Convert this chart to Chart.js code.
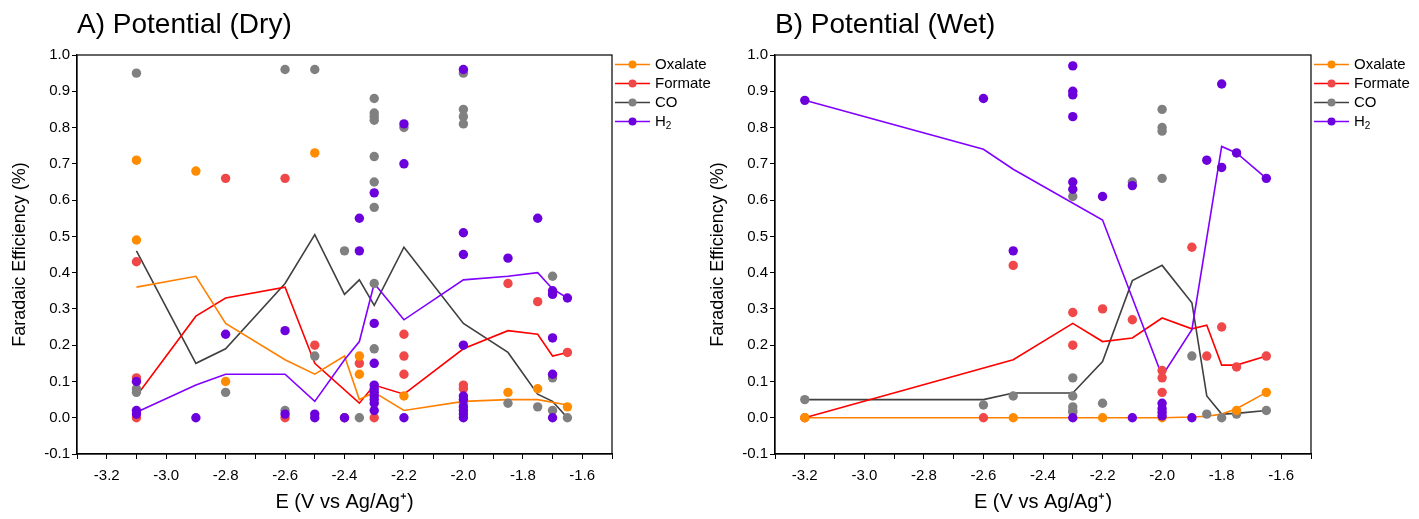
<!DOCTYPE html>
<html><head><meta charset="utf-8">
<script src="https://cdn.jsdelivr.net/npm/chart.js@4.4.1/dist/chart.umd.min.js"></script>
<style>
html,body{margin:0;padding:0;background:#fff;}
#wrap{position:relative;width:1419px;height:519px;overflow:hidden;}
canvas{position:absolute;top:0;}
</style></head><body>
<div id="wrap">
<canvas id="cA" width="725" height="519" style="left:0px"></canvas>
<canvas id="cB" width="721" height="519" style="left:698px"></canvas>
</div>
<script>
// ---------- tick labels ----------
const xTickLabels = ['-3.2','-3.0','-2.8','-2.6','-2.4','-2.2','-2.0','-1.8','-1.6'];
const yTickLabels = ['-0.1','0.0','0.1','0.2','0.3','0.4','0.5','0.6','0.7','0.8','0.9','1.0'];
const speciesNames = ['Oxalate','Formate','CO','H2'];

// ---------- Panel A (Dry): scatter points ----------
const A_ox_px = [-3.1,-3.1,-2.9,-2.5,-2.8,-2.35,-2.35,-2.2,-1.85,-1.75,-1.65];
const A_ox_py = [0.71,0.49,0.68,0.73,0.10,0.17,0.12,0.06,0.07,0.08,0.03];
const A_fo_px = [-3.1,-3.1,-3.1,-2.8,-2.6,-2.6,-2.5,-2.4,-2.35,-2.3,-2.2,-2.2,-2.2,-2.0,-2.0,-1.85,-1.75,-1.65];
const A_fo_py = [0.43,0.11,0.00,0.66,0.66,0.00,0.20,0.00,0.15,0.00,0.23,0.17,0.12,0.09,0.08,0.37,0.32,0.18];
const A_co_px = [-3.1,-3.1,-3.1,-2.8,-2.6,-2.6,-2.5,-2.5,-2.4,-2.35,-2.3,-2.3,-2.3,-2.3,-2.3,-2.3,-2.3,-2.3,-2.3,-2.2,-2.0,-2.0,-2.0,-2.0,-2.0,-1.85,-1.75,-1.7,-1.7,-1.7,-1.65];
const A_co_py = [0.95,0.08,0.07,0.07,0.96,0.02,0.96,0.17,0.46,0.00,0.88,0.84,0.83,0.82,0.72,0.65,0.58,0.37,0.19,0.80,0.95,0.85,0.83,0.81,0.04,0.04,0.03,0.39,0.11,0.02,0.00];
const A_h2_px = [-3.1,-3.1,-3.1,-2.9,-2.8,-2.6,-2.6,-2.5,-2.5,-2.4,-2.35,-2.35,-2.3,-2.3,-2.3,-2.3,-2.3,-2.3,-2.3,-2.3,-2.3,-2.3,-2.2,-2.2,-2.2,-2.0,-2.0,-2.0,-2.0,-2.0,-2.0,-2.0,-2.0,-2.0,-2.0,-1.85,-1.75,-1.7,-1.7,-1.7,-1.7,-1.7,-1.65];
const A_h2_py = [0.10,0.02,0.01,0.00,0.23,0.24,0.01,0.01,0.00,0.00,0.55,0.46,0.62,0.26,0.15,0.09,0.08,0.07,0.06,0.05,0.04,0.02,0.81,0.70,0.00,0.96,0.51,0.45,0.20,0.06,0.05,0.03,0.02,0.01,0.00,0.44,0.55,0.35,0.34,0.22,0.12,0.00,0.33];
// ---------- Panel A (Dry): average lines ----------
const A_ox_lx = [-3.1,-2.9,-2.8,-2.6,-2.5,-2.4,-2.35,-2.3,-2.2,-2.0,-1.85,-1.75,-1.65];
const A_ox_ly = [0.36,0.39,0.26,0.16,0.12,0.17,0.05,0.07,0.02,0.045,0.05,0.05,0.035];
const A_fo_lx = [-3.1,-2.9,-2.8,-2.6,-2.5,-2.35,-2.3,-2.2,-2.0,-1.85,-1.75,-1.7,-1.65];
const A_fo_ly = [0.06,0.28,0.33,0.36,0.15,0.04,0.09,0.065,0.19,0.24,0.23,0.17,0.18];
const A_co_lx = [-3.1,-2.9,-2.8,-2.6,-2.5,-2.4,-2.35,-2.3,-2.2,-2.0,-1.85,-1.75,-1.7,-1.65];
const A_co_ly = [0.46,0.15,0.19,0.37,0.505,0.34,0.38,0.31,0.47,0.26,0.18,0.065,0.045,0.0];
const A_h2_lx = [-3.1,-2.9,-2.8,-2.6,-2.5,-2.4,-2.35,-2.3,-2.2,-2.0,-1.85,-1.75,-1.7,-1.65];
const A_h2_ly = [0.015,0.09,0.12,0.12,0.045,0.16,0.21,0.37,0.27,0.38,0.39,0.40,0.355,0.33];

// ---------- Panel B (Wet): scatter points ----------
const B_ox_px = [-3.2,-2.5,-2.2,-2.0,-1.75,-1.65];
const B_ox_py = [0.00,0.00,0.00,0.00,0.02,0.07];
const B_fo_px = [-3.2,-2.6,-2.5,-2.3,-2.3,-2.2,-2.1,-2.0,-2.0,-2.0,-1.9,-1.85,-1.8,-1.75,-1.65];
const B_fo_py = [0.00,0.00,0.42,0.29,0.20,0.30,0.27,0.13,0.11,0.07,0.47,0.17,0.25,0.14,0.17];
const B_co_px = [-3.2,-2.6,-2.5,-2.3,-2.3,-2.3,-2.3,-2.3,-2.3,-2.2,-2.1,-2.0,-2.0,-2.0,-2.0,-1.9,-1.85,-1.8,-1.75,-1.65];
const B_co_py = [0.05,0.035,0.06,0.61,0.11,0.06,0.03,0.02,0.015,0.04,0.65,0.85,0.80,0.79,0.66,0.17,0.01,0.00,0.01,0.02];
const B_h2_px = [-3.2,-2.6,-2.5,-2.3,-2.3,-2.3,-2.3,-2.3,-2.3,-2.3,-2.2,-2.1,-2.1,-2.0,-2.0,-2.0,-2.0,-1.9,-1.85,-1.8,-1.8,-1.75,-1.65];
const B_h2_py = [0.875,0.88,0.46,0.97,0.90,0.89,0.83,0.65,0.63,0.00,0.61,0.64,0.00,0.04,0.025,0.015,0.005,0.00,0.71,0.92,0.69,0.73,0.66];
// ---------- Panel B (Wet): average lines ----------
const B_ox_lx = [-3.2,-2.6,-2.5,-2.3,-2.2,-2.0,-1.9,-1.85,-1.8,-1.75,-1.65];
const B_ox_ly = [0,0,0,0,0,0,0.002,0.004,0.01,0.025,0.07];
const B_fo_lx = [-3.2,-2.5,-2.3,-2.2,-2.1,-2.0,-1.9,-1.85,-1.8,-1.75,-1.65];
const B_fo_ly = [0.0,0.16,0.26,0.21,0.22,0.275,0.245,0.255,0.145,0.145,0.17];
const B_co_lx = [-3.2,-2.6,-2.5,-2.3,-2.2,-2.1,-2.0,-1.9,-1.85,-1.8,-1.75,-1.65];
const B_co_ly = [0.05,0.05,0.068,0.068,0.155,0.378,0.42,0.317,0.06,0.01,0.012,0.02];
const B_h2_lx = [-3.2,-2.6,-2.5,-2.2,-2.0,-1.9,-1.8,-1.75,-1.65];
const B_h2_ly = [0.875,0.74,0.685,0.545,0.115,0.243,0.748,0.73,0.66];

// ---------- styles ----------
const lineColors  = ['#FF8000','#FF0000','#404040','#8000FF'];
const pointColors = ['#FF8C00','#F04848','#808080','#6C00DC'];
const FONT = "'Liberation Sans', Arial, sans-serif";

function pts(xs, ys){ return xs.map((x,i)=>({x:x, y:ys[i]})); }

const framePlugin = {
  id:'frameLegend',
  afterDraw(chart){
    const ctx = chart.ctx, a = chart.chartArea;
    ctx.save();
    ctx.strokeStyle = '#000'; ctx.lineWidth = 1.2;
    ctx.strokeRect(a.left, a.top, a.right - a.left, a.bottom - a.top);
    speciesNames.forEach((name, i) => {
      const y = a.top + 9.5 + i*19;
      const x0 = a.right + 3;
      ctx.strokeStyle = lineColors[i]; ctx.lineWidth = 1.6;
      ctx.beginPath(); ctx.moveTo(x0, y); ctx.lineTo(x0 + 35, y); ctx.stroke();
      ctx.fillStyle = pointColors[i];
      ctx.beginPath(); ctx.arc(x0 + 17.5, y, 4, 0, Math.PI*2); ctx.fill();
      ctx.fillStyle = '#000'; ctx.textBaseline = 'middle'; ctx.textAlign = 'left';
      ctx.font = '15px ' + FONT;
      if (name === 'H2') {
        ctx.fillText('H', x0 + 40, y);
        const w = ctx.measureText('H').width;
        ctx.font = '10px ' + FONT;
        ctx.fillText('2', x0 + 40 + w, y + 5);
      } else {
        ctx.fillText(name, x0 + 40, y);
      }
    });
    ctx.restore();
  }
};

function makeChart(id, title, leftW, rightPad, P, L){
  const datasets = [];
  [3,0,1,2].forEach(k => {
    datasets.push({
      label: speciesNames[k]+' pts', data: pts(P[k][0], P[k][1]),
      showLine:false, pointRadius:4.7, pointHoverRadius:4.7,
      backgroundColor: pointColors[k], borderColor: pointColors[k], borderWidth:0
    });
  });
  [3,0,1,2].forEach(k => {
    datasets.push({
      label: speciesNames[k]+' avg', data: pts(L[k][0], L[k][1]),
      showLine:true, pointRadius:0, borderColor: lineColors[k], borderWidth:1.6,
      backgroundColor: lineColors[k], tension:0, fill:false
    });
  });
  return new Chart(document.getElementById(id), {
    type:'scatter',
    data:{datasets},
    plugins:[framePlugin],
    options:{
      responsive:false, animation:false, devicePixelRatio:1,
      layout:{padding:{left:0,right:rightPad,top:0,bottom:0}},
      plugins:{
        legend:{display:false}, tooltip:{enabled:false},
        title:{display:true, text:title, align:'start', fullSize:false, color:'#000',
               font:{family:FONT, size:28, weight:'normal'}, padding:{top:8,bottom:13.4}}
      },
      scales:{
        x:{
          type:'linear', min:-3.3, max:-1.5,
          afterFit(s){ s.height = 65; },
          ticks:{stepSize:0.1, autoSkip:false, maxRotation:0, color:'#000', padding:8,
                 font:{family:FONT, size:15},
                 callback(v){ const s = v.toFixed(1); return xTickLabels.includes(s) ? s : ''; }},
          grid:{display:true, drawOnChartArea:false, drawTicks:true, tickLength:5, tickColor:'#000', tickWidth:1},
          border:{display:true, color:'#000', width:1.2},
          title:{display:true, text:'E (V vs Ag/Ag\u207A)', color:'#000', font:{family:FONT, size:20}, padding:{top:0,bottom:5}}
        },
        y:{
          type:'linear', min:-0.1, max:1.0,
          afterFit(s){ s.width = leftW; },
          ticks:{stepSize:0.1, autoSkip:false, color:'#000', padding:2,
                 font:{family:FONT, size:15},
                 callback(v){ let s = v.toFixed(1); if (s==='-0.0') s='0.0'; return yTickLabels.includes(s) ? s : ''; }},
          grid:{display:true, drawOnChartArea:false, drawTicks:true, tickLength:5, tickColor:'#000', tickWidth:1},
          border:{display:true, color:'#000', width:1.2},
          title:{display:true, text:'Faradaic Efficiency (%)', color:'#000', font:{family:FONT, size:18}, padding:{top:9,bottom:0}}
        }
      }
    }
  });
}

makeChart('cA', 'A) Potential (Dry)', 77, 113,
  [[A_ox_px,A_ox_py],[A_fo_px,A_fo_py],[A_co_px,A_co_py],[A_h2_px,A_h2_py]],
  [[A_ox_lx,A_ox_ly],[A_fo_lx,A_fo_ly],[A_co_lx,A_co_ly],[A_h2_lx,A_h2_ly]]);
makeChart('cB', 'B) Potential (Wet)', 77, 108,
  [[B_ox_px,B_ox_py],[B_fo_px,B_fo_py],[B_co_px,B_co_py],[B_h2_px,B_h2_py]],
  [[B_ox_lx,B_ox_ly],[B_fo_lx,B_fo_ly],[B_co_lx,B_co_ly],[B_h2_lx,B_h2_ly]]);
</script>
</body></html>
